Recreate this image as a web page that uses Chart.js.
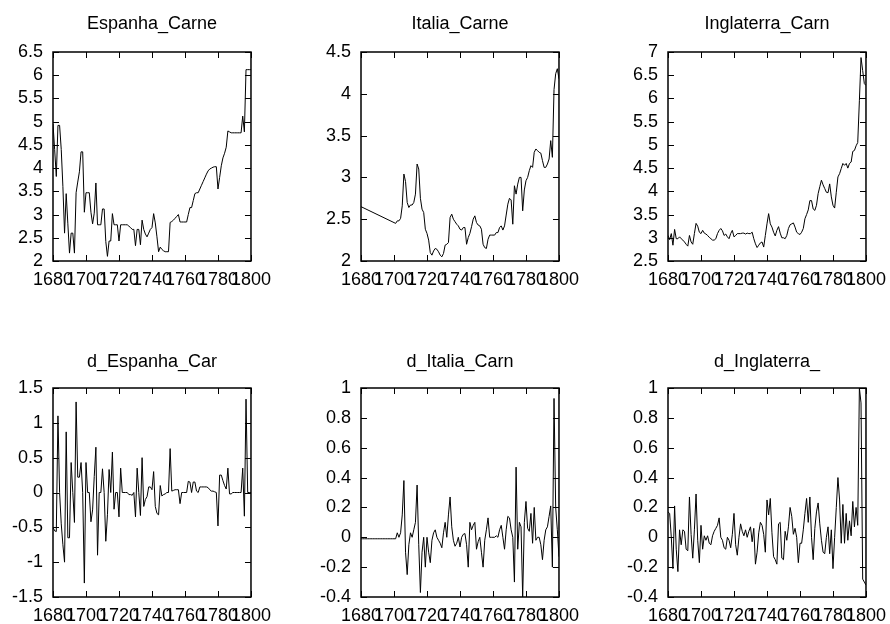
<!DOCTYPE html>
<html>
<head>
<meta charset="utf-8">
<title>Carne 1680-1800</title>
<script src="https://cdn.jsdelivr.net/npm/chart.js@4.4.0/dist/chart.umd.min.js"></script>
<style>
  html, body { margin: 0; padding: 0; background: #fff; overflow: hidden; }
  #grade { position: relative; width: 890px; height: 624px; }
  #grade canvas { position: absolute; }
</style>
</head>
<body>
<div id="grade"></div>
<script>
// anos da amostra
const anos = [
  1680,1681,1682,1683,1684,1685,1686,1687,1688,1689,
  1690,1691,1692,1693,1694,1695,1696,1697,1698,1699,
  1700,1701,1702,1703,1704,1705,1706,1707,1708,1709,
  1710,1711,1712,1713,1714,1715,1716,1717,1718,1719,
  1720,1721,1722,1723,1724,1725,1726,1727,1728,1729,
  1730,1731,1732,1733,1734,1735,1736,1737,1738,1739,
  1740,1741,1742,1743,1744,1745,1746,1747,1748,1749,
  1750,1751,1752,1753,1754,1755,1756,1757,1758,1759,
  1760,1761,1762,1763,1764,1765,1766,1767,1768,1769,
  1770,1771,1772,1773,1774,1775,1776,1777,1778,1779,
  1780,1781,1782,1783,1784,1785,1786,1787,1788,1789,
  1790,1791,1792,1793,1794,1795,1796,1797,1798,1799,
  1800
];

const espanhaCarne = [
  4.95, 4.4, 3.82, 4.92, 4.92, 4.4, 3.6, 2.6, 3.45, 2.8,
  2.17, 2.6, 2.6, 2.17, 3.47, 3.7, 3.92, 4.35, 4.35, 3.05,
  3.47, 3.47, 3.47, 3.05, 2.8, 3.03, 3.68, 2.78, 2.78, 2.78,
  3.12, 3.12, 2.42, 2.1, 2.43, 2.43, 3.02, 2.78, 2.78, 2.78,
  2.43, 2.78, 2.78, 2.78, 2.78, 2.78, 2.75, 2.72, 2.68, 2.68,
  2.33, 2.68, 2.68, 2.35, 2.88, 2.68, 2.58, 2.52, 2.6, 2.68,
  2.72, 3.02, 2.82, 2.52, 2.2, 2.3, 2.25, 2.22, 2.2, 2.2,
  2.2, 2.83, 2.85, 2.88, 2.92, 2.96, 3.0, 2.84, 2.84, 2.84,
  2.84, 2.84, 3.0, 3.15, 3.15, 3.3, 3.45, 3.47, 3.47, 3.55,
  3.63, 3.71, 3.79, 3.87, 3.94, 3.98, 4.0, 4.02, 4.03, 4.03,
  3.55, 3.8, 4.05, 4.22, 4.32, 4.45, 4.8, 4.78, 4.76, 4.76,
  4.76, 4.76, 4.76, 4.76, 4.76, 5.12, 4.78, 6.12, 6.12, 6.12,
  6.12
];

// Italia sem observações entre 1681 e 1700
const italiaCarne = [
  2.65, null, null, null, null, null, null, null, null, null,
  null, null, null, null, null, null, null, null, null, null,
  null, 2.45, 2.48, 2.48, 2.51, 2.66, 3.04, 2.95, 2.7, 2.64,
  2.67, 2.67, 2.7, 2.8, 3.16, 3.1, 2.75, 2.62, 2.58, 2.38,
  2.33, 2.25, 2.1, 2.07, 2.12, 2.15, 2.14, 2.11, 2.07, 2.05,
  2.09, 2.19, 2.2, 2.22, 2.52, 2.56, 2.5, 2.47, 2.44, 2.42,
  2.38, 2.37, 2.4, 2.4, 2.2, 2.28, 2.33, 2.41, 2.5, 2.54,
  2.46, 2.43, 2.42, 2.38, 2.2, 2.16, 2.15, 2.26, 2.31, 2.31,
  2.31, 2.31, 2.34, 2.34, 2.4, 2.42, 2.37, 2.42, 2.55, 2.68,
  2.75, 2.73, 2.44, 2.9, 2.8, 2.92, 3.0, 3.0, 2.6, 2.85,
  2.96, 3.0, 3.08, 3.14, 3.12, 3.3, 3.34, 3.32, 3.3, 3.29,
  3.2, 3.12, 3.12, 3.16, 3.22, 3.44, 3.24, 4.05, 4.24, 4.3,
  4.18
];

const inglaterraCarne = [
  3.05, 2.96, 3.09, 2.84, 3.18, 2.98, 2.98, 3.02, 2.98, 2.95,
  2.91, 2.86, 2.82, 3.05, 2.91, 2.86, 3.09, 3.31, 3.25, 3.12,
  3.09, 3.16, 3.1, 3.08, 3.05, 3.01, 2.98, 2.95, 2.95, 2.98,
  3.09, 3.16, 3.2, 3.15, 3.05, 3.08, 3.02, 2.98, 3.09, 3.16,
  3.02, 3.05, 3.09, 3.09, 3.09, 3.1, 3.1, 3.08, 3.1, 3.09,
  3.09, 3.12, 2.98, 2.87, 2.79, 2.84, 2.89, 2.91, 2.8, 3.05,
  3.3, 3.52, 3.3, 3.23, 3.12, 3.04, 3.16, 3.24, 3.1, 3.0,
  3.0, 2.98, 3.05, 3.2, 3.28, 3.3, 3.32, 3.23, 3.12, 3.09,
  3.07, 3.12, 3.2, 3.41, 3.5, 3.6, 3.8, 3.8, 3.62, 3.59,
  3.7, 3.95, 4.1, 4.24, 4.14, 4.06, 3.98, 3.97, 4.16, 3.88,
  3.7, 3.64, 3.98, 4.31, 4.38, 4.49, 4.6, 4.56, 4.6, 4.5,
  4.6, 4.63, 4.86, 4.88, 4.98, 5.05, 5.95, 6.88, 6.6, 6.32,
  6.28
];

// primeiras diferenças
const dEspanhaCarne = [
  -0.5, -0.55, -0.56, 1.1, 0.0, -0.45, -0.75, -1.0, 0.87, -0.65,
  -0.65, 0.43, 0.0, -0.43, 1.3, 0.22, 0.22, 0.43, 0.0, -1.3,
  0.43, 0.0, 0.0, -0.42, -0.25, 0.23, 0.65, -0.9, 0.0, 0.0,
  0.34, 0.0, -0.7, -0.32, 0.33, 0.0, 0.58, -0.24, 0.0, 0.0,
  -0.35, 0.35, 0.0, 0.0, 0.0, 0.0, -0.03, -0.03, -0.04, 0.0,
  -0.35, 0.35, 0.0, -0.33, 0.5, -0.2, -0.1, -0.06, 0.08, 0.08,
  0.04, 0.3, -0.2, -0.3, -0.32, 0.1, -0.05, -0.03, -0.02, 0.0,
  0.0, 0.63, 0.02, 0.03, 0.04, 0.04, 0.04, -0.16, 0.0, 0.0,
  0.0, 0.0, 0.16, 0.15, 0.0, 0.15, 0.15, 0.02, 0.0, 0.08,
  0.08, 0.08, 0.08, 0.08, 0.07, 0.04, 0.02, 0.02, 0.01, 0.0,
  -0.48, 0.25, 0.25, 0.17, 0.1, 0.05, 0.35, -0.02, -0.02, 0.0,
  0.0, 0.0, 0.0, 0.0, 0.0, 0.35, -0.34, 1.34, 0.0, 0.0,
  0.0
];

const dItaliaCarne = [
  -0.01, -0.01, -0.01, -0.01, -0.01, -0.01, -0.01, -0.01, -0.01, -0.01,
  -0.01, -0.01, -0.01, -0.01, -0.01, -0.01, -0.01, -0.01, -0.01, -0.01,
  -0.01, -0.01, 0.03, 0.0, 0.03, 0.15, 0.38, -0.1, -0.25, -0.05,
  0.03, 0.0, 0.05, 0.1, 0.35, -0.05, -0.37, -0.1, 0.0, -0.2,
  0.0, -0.1, -0.17, -0.02, 0.03, 0.05, 0.0, -0.02, -0.04, -0.07,
  0.03, 0.1, 0.0, 0.15, 0.27, 0.07, -0.02, -0.06, -0.04, 0.0,
  -0.065, 0.0, 0.02, 0.025, -0.05, -0.2, 0.1, 0.05, 0.08, 0.1,
  -0.08, -0.03, 0.0, -0.1, -0.2, -0.02, 0.05, 0.13, 0.0, 0.0,
  0.0, 0.0, 0.01, 0.0, 0.05, 0.08, 0.0, -0.08, 0.05, 0.14,
  0.13, 0.05, 0.0, -0.3, 0.47, -0.08, 0.1, 0.07, -0.4, 0.1,
  0.24, 0.06, 0.04, 0.16, -0.04, 0.2, -0.02, 0.0, 0.0, -0.05,
  -0.15, -0.02, 0.05, 0.07, 0.14, 0.21, -0.2, 0.93, 0.2, 0.05,
  -0.13
];

const dInglaterraCarne = [
  0.17, 0.16, 0.0, -0.21, 0.21, -0.08, -0.23, 0.05, -0.05, 0.05,
  0.04, -0.08, -0.09, 0.27, 0.02, -0.14, 0.05, 0.29, -0.02, -0.17,
  0.08, -0.08, 0.01, -0.02, 0.01, -0.04, -0.05, 0.01, 0.04, 0.06,
  0.08, 0.13, 0.0, -0.02, -0.07, -0.08, 0.0, -0.02, -0.07, 0.02,
  0.16, -0.05, -0.12, 0.0, 0.09, 0.04, 0.01, 0.05, 0.0, 0.04,
  0.07, -0.03, 0.06, -0.18, -0.1, 0.03, 0.1, 0.08, 0.02, -0.1,
  0.25, 0.15, 0.26, 0.03, -0.13, -0.15, -0.18, 0.09, 0.1, -0.14,
  -0.15, 0.04, -0.02, 0.07, 0.2, 0.14, 0.02, 0.06, 0.0, -0.17,
  -0.04, -0.04, 0.05, 0.16, 0.26, 0.1, 0.27, 0.0, -0.15, 0.06,
  0.17, 0.23, 0.09, -0.02, -0.1, -0.11, 0.0, 0.07, -0.11, 0.05,
  -0.21, 0.0, 0.2, 0.4, 0.25, -0.04, 0.22, -0.04, 0.16, -0.02,
  0.11, 0.01, 0.24, 0.07, 0.2, 0.08, 1.0, 0.9, -0.28, -0.3,
  -0.32
];

// marcas dos eixos
const xTicks = [1680, 1700, 1720, 1740, 1760, 1780, 1800];
const yTicksEspanha = [2, 2.5, 3, 3.5, 4, 4.5, 5, 5.5, 6, 6.5];
const yTicksItalia = [2, 2.5, 3, 3.5, 4, 4.5];
const yTicksInglaterra = [2.5, 3, 3.5, 4, 4.5, 5, 5.5, 6, 6.5, 7];
const yTicksDEspanha = [-1.5, -1, -0.5, 0, 0.5, 1, 1.5];
const yTicksDItalia = [-0.4, -0.2, 0, 0.2, 0.4, 0.6, 0.8, 1];
const yTicksDInglaterra = [-0.4, -0.2, 0, 0.2, 0.4, 0.6, 0.8, 1];

const paineis = [
  { titulo: 'Espanha_Carne',   serie: espanhaCarne,     yTicks: yTicksEspanha,     col: 0, lin: 0 },
  { titulo: 'Italia_Carne',    serie: italiaCarne,      yTicks: yTicksItalia,      col: 1, lin: 0 },
  { titulo: 'Inglaterra_Carn', serie: inglaterraCarne,  yTicks: yTicksInglaterra,  col: 2, lin: 0 },
  { titulo: 'd_Espanha_Car',   serie: dEspanhaCarne,    yTicks: yTicksDEspanha,    col: 0, lin: 1 },
  { titulo: 'd_Italia_Carn',   serie: dItaliaCarne,     yTicks: yTicksDItalia,     col: 1, lin: 1 },
  { titulo: 'd_Inglaterra_',   serie: dInglaterraCarne, yTicks: yTicksDInglaterra, col: 2, lin: 1 }
];

// geometria da grade (área de plotagem de cada painel)
const colEsq = [53, 361, 668];
const linTopo = [52, 388];
const linAltura = [209, 209];
const larguraPlot = 198;
const eixoY = 60;      // largura reservada para os rótulos do eixo y
const eixoX = 40;      // altura reservada para os rótulos do eixo x
const margemDir = 28;
const tituloCentro = [24, 26];   // centro do título acima da área de plotagem
const fonte = { family: '"Liberation Sans", Arial, sans-serif', size: 18, weight: 'normal' };

// moldura fechada com marcas para dentro nos quatro lados
const moldura = {
  id: 'moldura',
  afterDraw(chart) {
    const { ctx, chartArea: a, scales: { x, y } } = chart;
    const t = 6;
    ctx.save();
    ctx.strokeStyle = '#000';
    ctx.lineWidth = 1;
    ctx.beginPath();
    x.ticks.forEach(tk => {
      const px = Math.round(x.getPixelForValue(tk.value)) + 0.5;
      ctx.moveTo(px, a.bottom); ctx.lineTo(px, a.bottom - t);
      ctx.moveTo(px, a.top); ctx.lineTo(px, a.top + t);
    });
    y.ticks.forEach(tk => {
      const py = Math.round(y.getPixelForValue(tk.value)) + 0.5;
      ctx.moveTo(a.left, py); ctx.lineTo(a.left + t, py);
      ctx.moveTo(a.right, py); ctx.lineTo(a.right - t, py);
    });
    ctx.stroke();
    ctx.lineWidth = 1.5;
    ctx.strokeRect(a.left, a.top, a.right - a.left, a.bottom - a.top);
    ctx.restore();
  }
};

const grade = document.getElementById('grade');

paineis.forEach(p => {
  const topoCanvas = linTopo[p.lin] - 52;
  const padTopo = tituloCentro[p.lin] - 52 + linTopo[p.lin] - topoCanvas - fonte.size * 0.6;
  const gapTitulo = 52 - padTopo - fonte.size * 1.2;

  const canvas = document.createElement('canvas');
  canvas.width = eixoY + larguraPlot + margemDir;
  canvas.height = 52 + linAltura[p.lin] + eixoX;
  canvas.style.left = (colEsq[p.col] - eixoY) + 'px';
  canvas.style.top = topoCanvas + 'px';
  grade.appendChild(canvas);

  const yMin = p.yTicks[0];
  const yMax = p.yTicks[p.yTicks.length - 1];

  new Chart(canvas, {
    type: 'line',
    data: {
      datasets: [{
        data: anos.map((ano, i) => ({ x: ano, y: p.serie[i] })),
        borderColor: '#000',
        borderWidth: 1,
        pointRadius: 0,
        tension: 0,
        spanGaps: true,
        fill: false
      }]
    },
    options: {
      responsive: false,
      animation: false,
      devicePixelRatio: 1,
      layout: { padding: { left: 0, right: margemDir, top: padTopo, bottom: 0 } },
      plugins: {
        legend: { display: false },
        tooltip: { enabled: false },
        title: {
          display: true,
          fullSize: false,
          text: p.titulo,
          color: '#000',
          font: fonte,
          padding: { top: 0, bottom: gapTitulo }
        }
      },
      scales: {
        x: {
          type: 'linear',
          min: xTicks[0],
          max: xTicks[xTicks.length - 1],
          afterBuildTicks: s => { s.ticks = xTicks.map(v => ({ value: v })); },
          afterFit: s => { s.height = eixoX; },
          grid: { display: false, drawTicks: false },
          border: { display: false },
          ticks: {
            autoSkip: false, maxRotation: 0, minRotation: 0,
            padding: 8, color: '#000', font: fonte,
            callback: v => String(v)
          }
        },
        y: {
          type: 'linear',
          min: yMin,
          max: yMax,
          afterBuildTicks: s => { s.ticks = p.yTicks.map(v => ({ value: v })); },
          afterFit: s => { s.width = eixoY; },
          grid: { display: false, drawTicks: false },
          border: { display: false },
          ticks: {
            autoSkip: false,
            padding: 10, color: '#000', font: fonte,
            callback: v => String(v)
          }
        }
      }
    },
    plugins: [moldura]
  });
});
</script>
</body>
</html>
